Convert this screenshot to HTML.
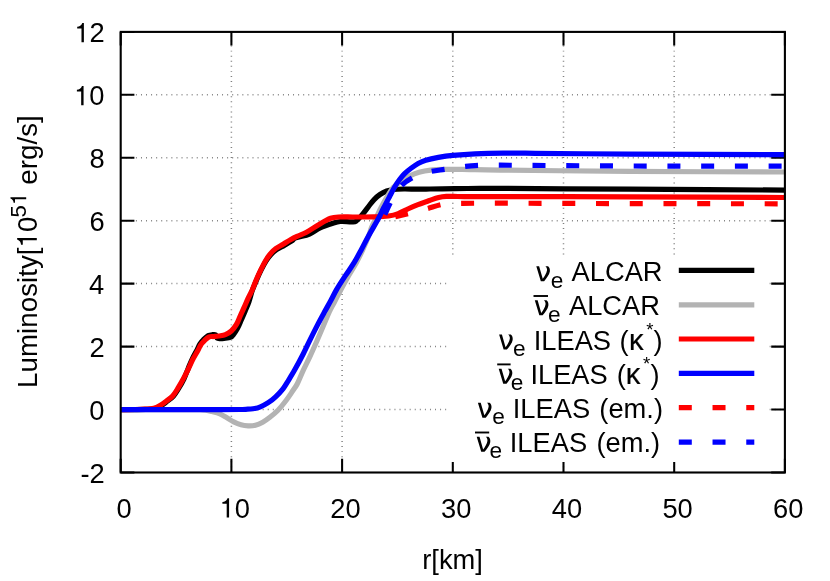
<!DOCTYPE html>
<html><head><meta charset="utf-8"><title>Luminosity</title>
<style>html,body{margin:0;padding:0;background:#fff}body{width:830px;height:581px;overflow:hidden;font-family:"Liberation Sans",sans-serif}</style>
</head><body>
<svg width="830" height="581" viewBox="0 0 830 581" style="display:block">
<rect width="830" height="581" fill="#fff"/>
<g stroke="#000" stroke-width="1.5" stroke-opacity="0.5" stroke-dasharray="0.95 4.12" fill="none"><path d="M231.4 472.4V31.9"/><path d="M342.1 472.4V31.9"/><path d="M452.8 472.4V31.9"/><path d="M563.5 472.4V31.9"/><path d="M674.2 472.4V31.9"/><path d="M120.7 409.5H784.9"/><path d="M120.7 346.6H784.9"/><path d="M120.7 283.6H784.9"/><path d="M120.7 220.7H784.9"/><path d="M120.7 157.8H784.9"/><path d="M120.7 94.8H784.9"/></g>
<path d="M120.7 472.4v-13.7M120.7 31.9v13.7M231.4 472.4v-13.7M231.4 31.9v13.7M342.1 472.4v-13.7M342.1 31.9v13.7M452.8 472.4v-13.7M452.8 31.9v13.7M563.5 472.4v-13.7M563.5 31.9v13.7M674.2 472.4v-13.7M674.2 31.9v13.7M784.9 472.4v-13.7M784.9 31.9v13.7M120.7 472.4h13.7M784.9 472.4h-13.7M120.7 409.5h13.7M784.9 409.5h-13.7M120.7 346.6h13.7M784.9 346.6h-13.7M120.7 283.6h13.7M784.9 283.6h-13.7M120.7 220.7h13.7M784.9 220.7h-13.7M120.7 157.8h13.7M784.9 157.8h-13.7M120.7 94.8h13.7M784.9 94.8h-13.7M120.7 31.9h13.7M784.9 31.9h-13.7" stroke="#000" stroke-width="2.05" fill="none"/>
<rect id="keybox" x="447.5" y="255" width="321.3" height="207" fill="#fff"/>
<clipPath id="c"><rect x="120.7" y="31.9" width="665.2" height="440.6"/></clipPath>
<g clip-path="url(#c)">
<path d="M120.70 409.60C125.70 409.60 130.70 409.64 135.70 409.60C139.03 409.57 142.37 409.56 145.70 409.40C148.61 409.26 151.57 409.36 154.40 408.70C156.64 408.18 158.71 407.05 160.70 405.90C162.90 404.64 164.88 403.03 166.90 401.50C169.10 399.83 171.50 398.35 173.35 396.30C175.46 393.97 177.01 391.18 178.65 388.50C180.57 385.36 182.42 382.17 184.00 378.85C185.61 375.46 186.76 371.87 188.20 368.40C189.53 365.18 190.79 361.94 192.30 358.80C193.79 355.70 195.63 352.76 197.20 349.70C198.19 347.76 198.86 345.65 200.00 343.80C200.91 342.33 202.07 341.01 203.30 339.80C204.85 338.27 206.40 336.66 208.30 335.60C209.55 334.91 211.07 334.84 212.50 334.70C213.53 334.60 214.76 334.29 215.60 334.90C216.51 335.57 216.13 337.27 217.00 338.00C217.78 338.66 218.98 338.54 220.00 338.60C221.30 338.68 222.61 338.57 223.90 338.40C226.18 338.10 228.58 338.10 230.70 337.20C231.96 336.67 232.76 335.38 233.60 334.30C235.00 332.50 236.32 330.61 237.40 328.60C238.90 325.80 240.01 322.81 241.30 319.90C242.58 317.01 243.87 314.12 245.10 311.20C246.44 308.02 247.87 304.86 249.00 301.60C250.27 297.95 251.01 294.14 252.30 290.50C253.65 286.70 255.30 283.00 256.90 279.30C258.30 276.07 259.73 272.85 261.30 269.70C262.80 266.68 264.31 263.65 266.10 260.80C267.48 258.60 269.03 256.49 270.80 254.60C272.51 252.77 274.43 251.12 276.50 249.70C278.92 248.04 281.65 246.87 284.20 245.40C286.79 243.90 289.41 242.46 291.90 240.80C293.02 240.05 293.74 238.69 295.00 238.20C299.69 236.39 304.85 235.93 309.50 234.00C313.28 232.43 316.38 229.50 320.10 227.80C324.44 225.82 329.04 224.42 333.60 223.00C335.78 222.32 338.02 221.65 340.30 221.50C344.16 221.25 348.03 221.85 351.90 221.80C353.21 221.78 354.72 222.05 355.80 221.30C358.39 219.50 360.34 216.89 362.40 214.50C364.51 212.05 366.30 209.34 368.30 206.80C370.20 204.38 371.98 201.83 374.10 199.60C375.89 197.72 377.85 195.97 380.00 194.50C382.08 193.08 384.35 191.90 386.70 191.00C388.71 190.23 390.86 189.75 393.00 189.50C396.65 189.08 400.33 189.04 404.00 189.00C408.50 188.94 413.00 189.20 417.50 189.20C421.67 189.20 425.83 189.07 430.00 189.00C438.33 188.87 446.67 188.70 455.00 188.60C463.33 188.50 471.67 188.44 480.00 188.40C486.67 188.37 493.33 188.36 500.00 188.40C543.33 188.63 586.67 188.94 630.00 189.20C681.63 189.51 733.27 189.80 784.90 190.10" fill="none" stroke="#000" stroke-width="5.2" stroke-linejoin="round"/>
<path d="M120.70 409.60C147.13 409.60 173.57 409.41 200.00 409.60C202.01 409.61 204.02 409.87 206.00 410.20C208.03 410.54 210.01 411.08 212.00 411.60C214.45 412.24 216.96 412.73 219.30 413.70C221.82 414.74 224.13 416.25 226.50 417.60C228.93 418.98 231.20 420.66 233.70 421.90C236.05 423.06 238.47 424.12 241.00 424.80C243.34 425.43 245.78 425.73 248.20 425.80C250.61 425.87 253.06 425.78 255.40 425.20C257.95 424.57 260.39 423.46 262.70 422.20C265.25 420.81 267.61 419.08 269.90 417.30C272.72 415.11 275.51 412.86 278.00 410.30C280.73 407.50 283.14 404.41 285.50 401.30C288.08 397.90 290.41 394.33 292.80 390.80C294.31 388.56 295.97 386.40 297.20 384.00C299.38 379.75 300.99 375.23 303.00 370.90C305.26 366.03 307.74 361.27 310.00 356.40C312.44 351.13 314.77 345.82 317.10 340.50C319.31 335.45 321.44 330.37 323.60 325.30C325.54 320.74 327.30 316.09 329.40 311.60C330.94 308.32 332.82 305.21 334.50 302.00C336.69 297.81 338.77 293.57 341.00 289.40C343.47 284.80 346.00 280.23 348.60 275.70C351.10 271.33 353.89 267.12 356.30 262.70C358.62 258.45 360.77 254.10 362.80 249.70C364.90 245.16 366.87 240.56 368.70 235.90C369.84 232.99 370.51 229.90 371.70 227.00C372.78 224.35 374.25 221.88 375.50 219.30C377.35 215.48 379.05 211.57 381.00 207.80C382.95 204.04 385.02 200.33 387.20 196.70C389.09 193.56 390.80 190.26 393.20 187.50C395.11 185.30 397.61 183.67 400.00 182.00C403.05 179.86 406.18 177.79 409.50 176.10C412.57 174.54 415.79 173.24 419.10 172.30C422.89 171.23 426.79 170.54 430.70 170.10C435.48 169.57 440.30 169.51 445.10 169.40C450.90 169.27 456.70 169.34 462.50 169.40C466.67 169.44 470.83 169.62 475.00 169.70C483.33 169.86 491.67 170.01 500.00 170.10C543.33 170.58 586.67 171.11 630.00 171.40C681.63 171.74 733.27 171.80 784.90 172.00" fill="none" stroke="#b3b3b3" stroke-width="5.2" stroke-linejoin="round"/>
<path d="M120.70 409.60C125.47 409.57 130.23 409.58 135.00 409.50C138.33 409.45 141.67 409.40 145.00 409.20C147.91 409.03 150.87 409.08 153.70 408.40C155.93 407.86 158.01 406.75 160.00 405.60C162.20 404.34 164.18 402.73 166.20 401.20C168.40 399.53 170.80 398.05 172.65 396.00C174.76 393.67 176.29 390.87 177.95 388.20C179.91 385.05 181.73 381.81 183.50 378.55C185.22 375.38 186.82 372.15 188.40 368.90C189.94 365.73 191.23 362.43 192.85 359.30C194.44 356.23 196.34 353.33 198.00 350.30C199.02 348.44 199.73 346.41 200.90 344.65C201.85 343.22 203.06 341.98 204.30 340.80C205.80 339.38 207.22 337.74 209.10 336.90C210.57 336.24 212.30 336.65 213.90 336.50C215.50 336.35 217.11 336.25 218.70 336.00C220.95 335.65 223.29 335.54 225.40 334.70C227.56 333.84 229.59 332.57 231.30 331.00C233.28 329.19 234.93 327.01 236.30 324.70C237.92 321.97 238.90 318.90 240.20 316.00C241.50 313.12 242.81 310.24 244.10 307.35C245.54 304.14 246.91 300.89 248.40 297.70C249.54 295.27 250.92 292.96 252.00 290.50C253.62 286.82 254.92 283.00 256.50 279.30C257.88 276.06 259.35 272.86 260.90 269.70C262.42 266.59 263.94 263.48 265.70 260.50C267.08 258.17 268.56 255.87 270.30 253.80C271.94 251.85 273.76 250.02 275.80 248.50C278.09 246.80 280.75 245.66 283.20 244.20C285.78 242.66 288.28 240.98 290.90 239.50C292.89 238.38 294.93 237.36 297.00 236.40C299.97 235.02 303.13 234.06 306.00 232.50C310.51 230.05 314.65 226.96 319.10 224.40C322.89 222.22 326.62 219.86 330.70 218.30C333.13 217.37 335.80 217.15 338.40 217.00C343.19 216.72 348.00 217.01 352.80 217.00C359.90 216.98 367.00 217.10 374.10 216.90C378.94 216.76 383.80 216.66 388.60 216.00C391.87 215.55 395.10 214.73 398.20 213.60C401.53 212.38 404.57 210.47 407.80 209.00C411.17 207.47 414.55 205.95 418.00 204.60C421.79 203.12 425.65 201.83 429.50 200.50C432.52 199.46 435.50 198.26 438.60 197.50C441.12 196.89 443.71 196.53 446.30 196.40C450.13 196.20 453.97 196.47 457.80 196.50C465.20 196.57 472.60 196.68 480.00 196.70C486.67 196.72 493.33 196.59 500.00 196.60C543.33 196.66 586.67 196.76 630.00 196.90C681.63 197.06 733.27 197.30 784.90 197.50" fill="none" stroke="#ff0000" stroke-width="5.2" stroke-linejoin="round"/>
<path d="M120.70 409.60C147.13 409.60 173.57 409.62 200.00 409.60C213.33 409.59 226.67 409.59 240.00 409.50C241.93 409.49 243.87 409.40 245.80 409.30C248.20 409.17 250.63 409.21 253.00 408.80C255.52 408.37 258.03 407.75 260.40 406.80C263.13 405.71 265.75 404.31 268.20 402.70C270.84 400.97 273.30 398.96 275.60 396.80C278.25 394.31 280.76 391.66 283.00 388.80C285.08 386.14 286.72 383.17 288.50 380.30C290.59 376.93 292.67 373.56 294.60 370.10C297.57 364.79 300.44 359.42 303.20 354.00C305.70 349.09 307.96 344.05 310.40 339.10C312.79 334.25 315.20 329.40 317.70 324.60C319.97 320.23 322.34 315.92 324.70 311.60C326.54 308.22 328.47 304.89 330.30 301.50C332.47 297.49 334.40 293.34 336.70 289.40C339.43 284.73 342.45 280.23 345.40 275.70C348.25 271.33 351.38 267.15 354.10 262.70C356.68 258.47 358.96 254.06 361.30 249.70C363.76 245.13 366.00 240.45 368.50 235.90C371.57 230.31 374.97 224.91 378.00 219.30C380.04 215.54 381.76 211.61 383.70 207.80C385.59 204.08 387.55 200.39 389.50 196.70C391.15 193.56 392.70 190.36 394.50 187.30C396.07 184.62 397.76 182.00 399.60 179.50C401.13 177.43 402.75 175.40 404.60 173.60C406.70 171.55 409.05 169.76 411.40 168.00C413.55 166.39 415.73 164.78 418.10 163.50C420.56 162.17 423.13 161.00 425.80 160.20C429.92 158.96 434.16 158.15 438.40 157.40C443.17 156.55 447.98 155.87 452.80 155.40C460.18 154.67 467.59 154.14 475.00 153.80C484.39 153.37 493.80 153.18 503.20 153.10C513.80 153.01 524.40 153.22 535.00 153.30C566.67 153.55 598.33 153.92 630.00 154.10C681.63 154.39 733.27 154.50 784.90 154.70" fill="none" stroke="#0000ff" stroke-width="5.2" stroke-linejoin="round"/>
<path d="M395.30 216.70C399.60 215.70 403.91 214.74 408.20 213.70C411.48 212.91 414.74 212.07 418.00 211.20C421.34 210.30 424.67 209.35 428.00 208.40C432.34 207.15 436.59 205.58 441.00 204.60C443.95 203.94 446.98 203.70 450.00 203.50C453.66 203.26 457.33 203.32 461.00 203.30C474.00 203.22 487.00 203.18 500.00 203.20C543.33 203.28 586.67 203.51 630.00 203.60C681.63 203.71 733.27 203.73 784.90 203.80" fill="none" stroke="#ff0000" stroke-width="5.2" stroke-linejoin="round" stroke-dasharray="13 20.73"/>
<path d="M384.80 214.60C386.50 210.90 388.07 207.14 389.90 203.50C391.61 200.10 393.31 196.68 395.40 193.50C397.42 190.42 399.51 187.31 402.20 184.80C405.07 182.12 408.48 180.03 411.90 178.10C414.77 176.48 417.88 175.28 421.00 174.20C424.46 173.00 428.01 172.02 431.60 171.30C435.99 170.42 440.47 170.06 444.90 169.40C448.27 168.90 451.63 168.28 455.00 167.80C458.39 167.32 461.79 166.87 465.20 166.50C468.46 166.14 471.72 165.77 475.00 165.60C479.99 165.34 485.00 165.28 490.00 165.20C493.33 165.15 496.67 165.18 500.00 165.20C543.33 165.45 586.67 165.85 630.00 166.00C681.63 166.18 733.27 166.13 784.90 166.20" fill="none" stroke="#0000ff" stroke-width="5.2" stroke-linejoin="round" stroke-dasharray="13 20.73"/>
</g>
<path d="M678.8 270.4H754.3" stroke="#000" stroke-width="5.2" fill="none"/>
<path d="M678.8 304.8H754.3" stroke="#b3b3b3" stroke-width="5.2" fill="none"/>
<path d="M678.8 339.0H754.3" stroke="#ff0000" stroke-width="5.2" fill="none"/>
<path d="M678.8 373.3H754.3" stroke="#0000ff" stroke-width="5.2" fill="none"/>
<path d="M678.8 407.6H754.3" stroke="#ff0000" stroke-width="5.2" fill="none" stroke-dasharray="13 20.73"/>
<path d="M678.8 442.2H754.3" stroke="#0000ff" stroke-width="5.2" fill="none" stroke-dasharray="13 20.73"/>
<rect x="120.7" y="31.9" width="664.2" height="440.6" fill="none" stroke="#000" stroke-width="2.1"/>
<g font-family="'Liberation Sans', sans-serif" fill="#000" opacity="0.999"><g transform="translate(80.50,482.85)"><text x="0.00" y="0" font-size="27.30">-2</text></g><g transform="translate(89.28,419.91)"><text x="0.00" y="0" font-size="27.30">0</text></g><g transform="translate(89.59,356.98)"><text x="0.00" y="0" font-size="27.30">2</text></g><g transform="translate(89.02,294.04)"><text x="0.00" y="0" font-size="27.30">4</text></g><g transform="translate(89.42,231.11)"><text x="0.00" y="0" font-size="27.30">6</text></g><g transform="translate(89.40,168.17)"><text x="0.00" y="0" font-size="27.30">8</text></g><g transform="translate(74.10,105.24)"><path d="M.259 0V-.505H.102V-.568C.190 -.575 .250 -.610 .289 -.709H.347V0Z" transform="translate(0.00,0) scale(27.300)"/><text x="15.18" y="0" font-size="27.30">0</text></g><g transform="translate(74.41,42.30)"><path d="M.259 0V-.505H.102V-.568C.190 -.575 .250 -.610 .289 -.709H.347V0Z" transform="translate(0.00,0) scale(27.300)"/><text x="15.18" y="0" font-size="27.30">2</text></g><g transform="translate(116.51,517.50)"><text x="0.00" y="0" font-size="27.30">0</text></g><g transform="translate(219.62,517.50)"><path d="M.259 0V-.505H.102V-.568C.190 -.575 .250 -.610 .289 -.709H.347V0Z" transform="translate(0.00,0) scale(27.300)"/><text x="15.18" y="0" font-size="27.30">0</text></g><g transform="translate(330.32,517.50)"><text x="0.00" y="0" font-size="27.30">20</text></g><g transform="translate(441.02,517.50)"><text x="0.00" y="0" font-size="27.30">30</text></g><g transform="translate(551.72,517.50)"><text x="0.00" y="0" font-size="27.30">40</text></g><g transform="translate(662.42,517.50)"><text x="0.00" y="0" font-size="27.30">50</text></g><g transform="translate(773.12,517.50)"><text x="0.00" y="0" font-size="27.30">60</text></g><text x="422.27" y="568.60" font-size="27.30">r[km]</text><text transform="translate(36.80,387.88) rotate(-90)" font-size="27.75">Luminosity[</text><g transform="translate(36.80,247.53) rotate(-90)"><path d="M.259 0V-.505H.102V-.568C.190 -.575 .250 -.610 .289 -.709H.347V0Z" transform="translate(0.00,0) scale(27.750)"/><text x="15.43" y="0" font-size="27.75">0</text></g><g transform="translate(26.20,217.39) rotate(-90)"><text x="0.00" y="0" font-size="22.20">5</text><path d="M.259 0V-.505H.102V-.568C.190 -.575 .250 -.610 .289 -.709H.347V0Z" transform="translate(12.35,0) scale(22.200)"/></g><text transform="translate(36.80,184.68) rotate(-90)" font-size="27.75">erg/s]</text><path d="M0 -15.06L2.83 -15.06L6.45 -2.41C8.5 -5 10.2 -8 10.72 -10.84C11 -12.5 10.3 -14 9.04 -15.06L11.75 -15.06C13.2 -13.8 13.9 -12 13.55 -9.64C13 -6.5 10.5 -3 7.83 0L4.52 0Z" transform="translate(536.30,281.20)"/><text x="550.74" y="287.80" font-size="22.70">e</text><text transform="translate(571.54,281.20) scale(1,1.040)" font-size="27.30">ALCAR</text><path d="M0 -15.06L2.83 -15.06L6.45 -2.41C8.5 -5 10.2 -8 10.72 -10.84C11 -12.5 10.3 -14 9.04 -15.06L11.75 -15.06C13.2 -13.8 13.9 -12 13.55 -9.64C13 -6.5 10.5 -3 7.83 0L4.52 0Z" transform="translate(534.80,315.30)"/><path d="M533.50 296.00H548.00" stroke="#000" stroke-width="1.9" fill="none"/><text x="547.94" y="321.90" font-size="22.70">e</text><text transform="translate(568.94,315.30) scale(1,1.040)" font-size="27.30">ALCAR</text><path d="M0 -15.06L2.83 -15.06L6.45 -2.41C8.5 -5 10.2 -8 10.72 -10.84C11 -12.5 10.3 -14 9.04 -15.06L11.75 -15.06C13.2 -13.8 13.9 -12 13.55 -9.64C13 -6.5 10.5 -3 7.83 0L4.52 0Z" transform="translate(499.10,349.60)"/><text x="513.04" y="356.20" font-size="22.70">e</text><text transform="translate(533.68,349.60) scale(1,1.040)" font-size="27.30">ILEAS</text><text x="619.61" y="349.60" font-size="27.30">(</text><text x="629.03" y="349.60" font-size="29.30" stroke="#000" stroke-width="0.2">κ</text><text x="646.20" y="335.90" font-size="18.60">*</text><text x="653.60" y="349.60" font-size="27.30">)</text><path d="M0 -15.06L2.83 -15.06L6.45 -2.41C8.5 -5 10.2 -8 10.72 -10.84C11 -12.5 10.3 -14 9.04 -15.06L11.75 -15.06C13.2 -13.8 13.9 -12 13.55 -9.64C13 -6.5 10.5 -3 7.83 0L4.52 0Z" transform="translate(498.70,383.70)"/><path d="M497.20 364.40H510.60" stroke="#000" stroke-width="1.9" fill="none"/><text x="510.74" y="390.30" font-size="22.70">e</text><text transform="translate(530.38,383.70) scale(1,1.040)" font-size="27.30">ILEAS</text><text x="616.71" y="383.70" font-size="27.30">(</text><text x="625.73" y="383.70" font-size="29.30" stroke="#000" stroke-width="0.2">κ</text><text x="643.10" y="370.00" font-size="18.60">*</text><text x="650.40" y="383.70" font-size="27.30">)</text><path d="M0 -15.06L2.83 -15.06L6.45 -2.41C8.5 -5 10.2 -8 10.72 -10.84C11 -12.5 10.3 -14 9.04 -15.06L11.75 -15.06C13.2 -13.8 13.9 -12 13.55 -9.64C13 -6.5 10.5 -3 7.83 0L4.52 0Z" transform="translate(477.90,417.70)"/><text x="492.14" y="424.30" font-size="22.70">e</text><text transform="translate(512.78,417.70) scale(1,1.040)" font-size="27.30">ILEAS</text><text x="599.30" y="417.70" font-size="27.30">(em.)</text><path d="M0 -15.06L2.83 -15.06L6.45 -2.41C8.5 -5 10.2 -8 10.72 -10.84C11 -12.5 10.3 -14 9.04 -15.06L11.75 -15.06C13.2 -13.8 13.9 -12 13.55 -9.64C13 -6.5 10.5 -3 7.83 0L4.52 0Z" transform="translate(476.70,451.80)"/><path d="M475.00 432.50H489.20" stroke="#000" stroke-width="1.9" fill="none"/><text x="489.54" y="458.40" font-size="22.70">e</text><text transform="translate(509.78,451.80) scale(1,1.040)" font-size="27.30">ILEAS</text><text x="596.40" y="451.80" font-size="27.30">(em.)</text></g>
</svg>
</body></html>
